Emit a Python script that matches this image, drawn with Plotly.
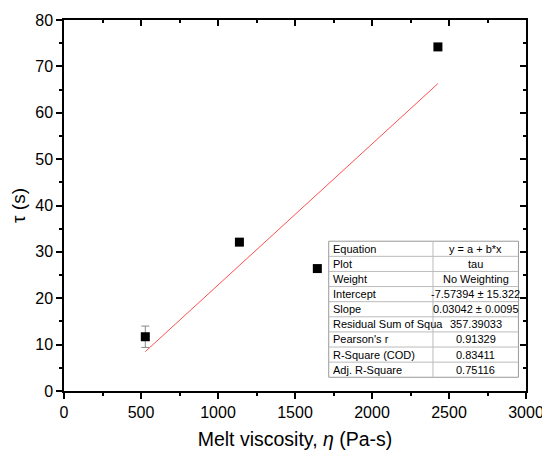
import plotly.graph_objects as go

# measured points
visc = [528, 1139, 1645, 2428]
tau = [11.7, 32.1, 26.4, 74.2]
tau_err = [2.3, 0, 0, 0]

# linear fit y = a + b*x
fit_a = -7.57394
fit_b = 0.03042
fit_x = [visc[0], visc[-1]]

table_labels = ["Equation", "Plot", "Weight", "Intercept", "Slope",
                "Residual Sum of Squa", "Pearson's r", "R-Square (COD)", "Adj. R-Square"]
table_values = ["y = a + b*x", "tau", "No Weighting", "-7.57394 ± 15.322",
                "0.03042 ± 0.0095", "357.39033", "0.91329", "0.83411", "0.75116"]

FONT = "Arial, Liberation Sans, sans-serif"

fig = go.Figure()

fig.add_trace(go.Scatter(
    x=fit_x,
    y=[fit_a + fit_b * v for v in fit_x],
    mode="lines",
    line=dict(color="#ff5050", width=1),
    showlegend=False,
))

fig.add_trace(go.Scatter(
    x=visc, y=tau,
    mode="markers",
    marker=dict(symbol="square", size=9, color="black"),
    error_y=dict(type="data", array=tau_err, visible=True,
                 color="#888888", thickness=1, width=4),
    showlegend=False,
))

# dummy trace so the mirrored axes get drawn
fig.add_trace(go.Scatter(x=[0], y=[0], xaxis="x2", yaxis="y2",
                         mode="markers", marker=dict(opacity=0),
                         showlegend=False, hoverinfo="skip"))

# fit results table (drawn in data coords)
tx0, tx1, tdiv = 1719, 2951, 2396
ty_top, ty_bot = 32.3, 2.96
n = len(table_labels)
rh = (ty_top - ty_bot) / n
fig.add_shape(type="rect", x0=tx0, x1=tx1, y0=ty_bot, y1=ty_top,
              line=dict(color="#999999", width=1), fillcolor="white", layer="above")
fig.add_shape(type="line", x0=tdiv, x1=tdiv, y0=ty_bot, y1=ty_top,
              line=dict(color="#bbbbbb", width=1), layer="above")
for i in range(1, n):
    yy = ty_top - i * rh
    fig.add_shape(type="line", x0=tx0, x1=tx1, y0=yy, y1=yy,
                  line=dict(color="#bbbbbb", width=1), layer="above")
for i, (lab, val) in enumerate(zip(table_labels, table_values)):
    yc = ty_top - (i + 0.5) * rh
    fig.add_annotation(x=tx0 + 15, y=yc, text=lab, showarrow=False,
                       xanchor="left", font=dict(family=FONT, size=11, color="black"))
    fig.add_annotation(x=(tdiv + tx1) / 2, y=yc, text=val, showarrow=False,
                       xanchor="center", font=dict(family=FONT, size=11, color="black"))

axis_common = dict(showline=True, linecolor="black", linewidth=1.5,
                   showgrid=False, zeroline=False, automargin=False)

fig.update_layout(
    width=550, height=458,
    margin=dict(l=56, r=32, t=12, b=75),
    plot_bgcolor="white", paper_bgcolor="white",
    font=dict(family=FONT, color="black"),
    xaxis=dict(range=[0, 3000], dtick=500, ticks="outside", ticklen=6,
               tickwidth=1.5, tickcolor="black", tickfont=dict(size=16),
               minor=dict(ticks="outside", ticklen=3, dtick=250, tickcolor="black"),
               title=dict(text="Melt viscosity, <i>η</i> (Pa-s)", font=dict(size=19.5), standoff=12),
               **axis_common),
    yaxis=dict(range=[0, 80], dtick=10, ticks="outside", ticklen=6,
               tickwidth=1.5, tickcolor="black", tickfont=dict(size=16),
               minor=dict(ticks="outside", ticklen=3, dtick=5, tickcolor="black"),
               title=dict(text="τ (s)", font=dict(size=19), standoff=6),
               **axis_common),
    xaxis2=dict(range=[0, 3000], dtick=500, overlaying="x", side="top",
                ticks="inside", ticklen=6, tickwidth=1.5, tickcolor="black",
                showticklabels=False,
                minor=dict(ticks="inside", ticklen=3, dtick=250, tickcolor="black"),
                **axis_common),
    yaxis2=dict(range=[0, 80], dtick=10, overlaying="y", side="right",
                ticks="inside", ticklen=6, tickwidth=1.5, tickcolor="black",
                showticklabels=False,
                minor=dict(ticks="inside", ticklen=3, dtick=5, tickcolor="black"),
                **axis_common),
)

fig.write_html("out.html")
